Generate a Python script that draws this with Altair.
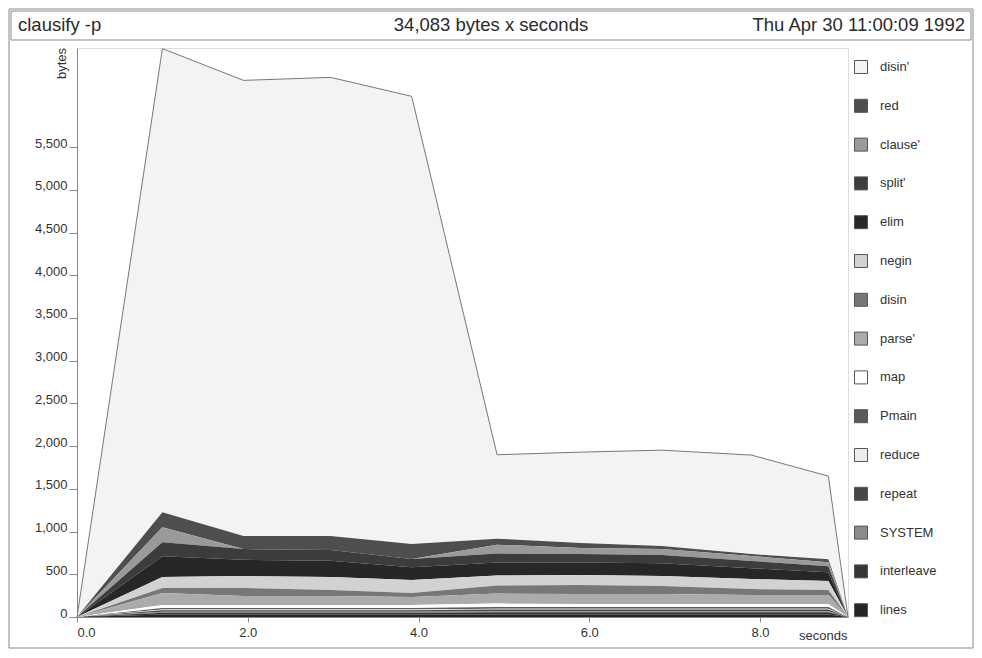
import altair as alt
import pandas as pd

# sample times (seconds)
times = [0.0, 1.0, 1.95, 2.97, 3.92, 4.92, 5.9, 6.85, 7.9, 8.8, 9.03]

# legend order (top of stack first)
series_names = ["disin'", "red", "clause'", "split'", "elim", "negin", "disin",
                "parse'", "map", "Pmain", "reduce", "repeat", "SYSTEM",
                "interleave", "lines"]
series_colors = ["#f3f3f3", "#4e4e4e", "#9a9a9a", "#3c3c3c", "#272727", "#d2d2d2",
                 "#777777", "#ababab", "#ffffff", "#5a5a5a", "#ededed", "#474747",
                 "#8c8c8c", "#363636", "#252525"]

# bytes per series at each sample
v_disin_p   = [0, 5427, 5334, 5369, 5240, 982, 1065, 1122, 1159, 972, 0]
v_red       = [0, 175, 152, 164, 175, 70, 58, 35, 23, 35, 0]
v_clause_p  = [0, 175, 0, 0, 0, 105, 70, 70, 58, 47, 0]
v_split_p   = [0, 164, 126, 126, 98, 103, 98, 98, 84, 70, 0]
v_elim      = [0, 245, 190, 190, 148, 154, 148, 148, 127, 105, 0]
v_negin     = [0, 129, 140, 152, 152, 117, 117, 117, 117, 105, 0]
v_disin     = [0, 58, 94, 70, 47, 94, 105, 94, 70, 58, 0]
v_parse_p   = [0, 140, 105, 105, 94, 117, 117, 117, 105, 105, 0]
v_map       = [0, 35, 35, 35, 35, 40, 35, 35, 35, 35, 0]
v_pmain     = [0, 18, 18, 18, 18, 20, 20, 20, 20, 20, 0]
v_reduce    = [0, 9, 9, 9, 9, 10, 10, 10, 10, 10, 0]
v_repeat    = [0, 18, 18, 18, 18, 20, 20, 20, 20, 20, 0]
v_system    = [0, 10, 10, 10, 10, 12, 12, 12, 12, 12, 0]
v_interleave = [0, 22, 22, 22, 22, 25, 25, 25, 25, 25, 0]
v_lines     = [0, 28, 28, 28, 28, 30, 30, 30, 30, 30, 0]

series_values = [v_disin_p, v_red, v_clause_p, v_split_p, v_elim, v_negin, v_disin,
                 v_parse_p, v_map, v_pmain, v_reduce, v_repeat, v_system,
                 v_interleave, v_lines]

title_left = "clausify -p"
title_mid = "34,083 bytes x seconds"
title_right = "Thu Apr 30 11:00:09 1992"
y_ticks = [0, 500, 1000, 1500, 2000, 2500, 3000, 3500, 4000, 4500, 5000, 5500]
x_ticks = [0, 2, 4, 6, 8]

rows = []
n = len(series_names)
for i, (name, vals) in enumerate(zip(series_names, series_values)):
    for t, v in zip(times, vals):
        rows.append({"t": t, "value": v, "series": name, "ord": n - i})
df = pd.DataFrame(rows)

FONT = "Liberation Sans"
W, H = 771, 569

xscale = alt.Scale(domain=[0, 9.03], nice=False)
yscale = alt.Scale(domain=[0, 6660], nice=False)

areas = alt.Chart(df).mark_area(interpolate="linear").encode(
    x=alt.X("t:Q", scale=xscale,
            axis=alt.Axis(values=x_ticks, format=".1f", title="seconds",
                          titleX=770, titleY=18, titleAlign="right",
                          titleBaseline="middle", titleFontWeight="normal",
                          titleFontSize=13, titleFont=FONT, titleColor="#333",
                          labelFontSize=13, labelFont=FONT, labelColor="#333",
                          labelPadding=4, tickSize=5, tickColor="#888",
                          domainColor="#888", grid=False)),
    y=alt.Y("value:Q", stack="zero", scale=yscale,
            axis=alt.Axis(values=y_ticks, format=",d", title="bytes",
                          titleX=-9, titleY=15, titleAlign="center",
                          titleBaseline="bottom", titleFontWeight="normal",
                          titleFontSize=13, titleFont=FONT, titleColor="#333",
                          labelFontSize=13, labelFont=FONT, labelColor="#333",
                          labelBaseline="alphabetic", labelPadding=2,
                          tickSize=8, tickColor="#888", domainColor="#888",
                          grid=False)),
    color=alt.Color("series:N",
                    scale=alt.Scale(domain=series_names, range=series_colors),
                    legend=alt.Legend(title=None, orient="none", legendX=777,
                                      legendY=12, symbolType="square",
                                      symbolSize=169, symbolStrokeColor="#555",
                                      symbolStrokeWidth=1, symbolOpacity=1,
                                      labelFontSize=13, labelFont=FONT,
                                      labelColor="#333", rowPadding=20.8,
                                      labelOffset=12)),
    order=alt.Order("ord:Q", sort="ascending"),
)

total = alt.Chart(df).transform_aggregate(
    total="sum(value)", groupby=["t"]
).mark_line(color="#777", strokeWidth=1).encode(
    x=alt.X("t:Q", scale=xscale),
    y=alt.Y("total:Q", scale=yscale),
)

frame_df = pd.DataFrame({"k": [1]})
outer = alt.Chart(frame_df).mark_rect(fillOpacity=0, stroke="#888", strokeWidth=1).encode(
    x=alt.value(-68), x2=alt.value(896), y=alt.value(-39), y2=alt.value(600))
header = alt.Chart(frame_df).mark_rect(fillOpacity=0, stroke="#888", strokeWidth=1).encode(
    x=alt.value(-66), x2=alt.value(894), y=alt.value(-37), y2=alt.value(-8))

t1 = alt.Chart(pd.DataFrame({"txt": [title_left]})).mark_text(
    align="left", baseline="middle", font=FONT, fontSize=18.5, color="#2a2a2a").encode(
    x=alt.value(-59), y=alt.value(-23), text="txt:N")
t2 = alt.Chart(pd.DataFrame({"txt": [title_mid]})).mark_text(
    align="center", baseline="middle", font=FONT, fontSize=18.5, color="#2a2a2a").encode(
    x=alt.value(414), y=alt.value(-23), text="txt:N")
t3 = alt.Chart(pd.DataFrame({"txt": [title_right]})).mark_text(
    align="right", baseline="middle", font=FONT, fontSize=18.5, color="#2a2a2a").encode(
    x=alt.value(888), y=alt.value(-23), text="txt:N")

chart = alt.layer(areas, total, outer, header, t1, t2, t3).properties(
    width=W, height=H,
    padding={"left": 69, "top": 40, "right": 126, "bottom": 33},
    autosize=alt.AutoSizeParams(type="none"),
).configure_view(stroke=None).configure(background="white")

chart.save("out.html", embed_options={"renderer": "svg", "actions": False})
